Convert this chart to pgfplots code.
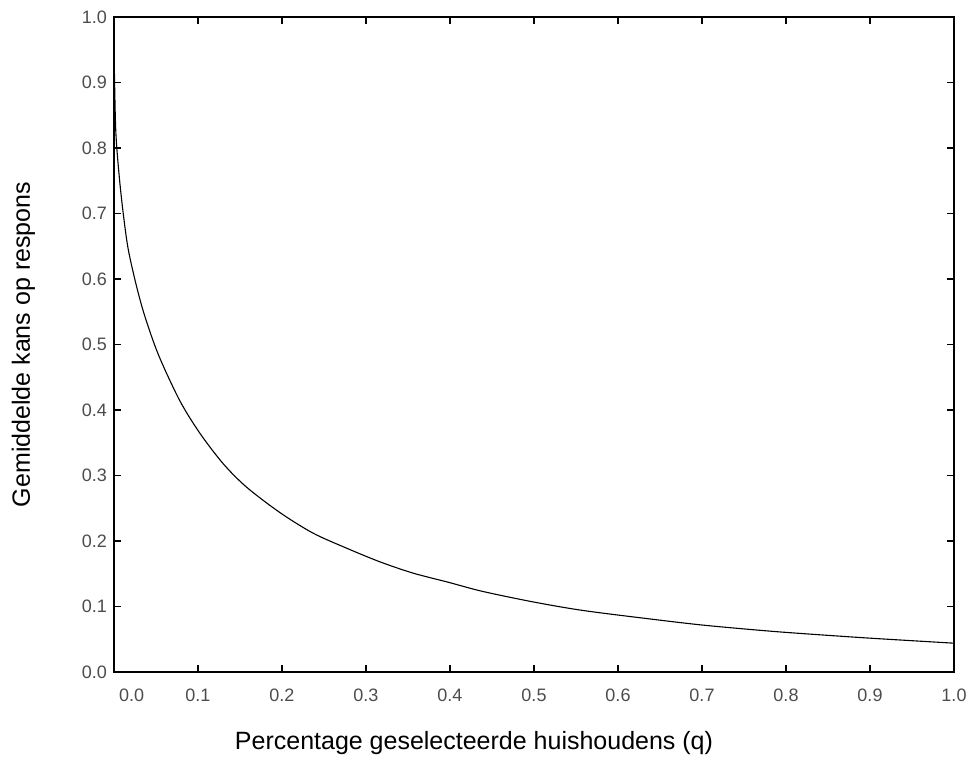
\documentclass[border=0pt]{standalone}
\usepackage{fontspec}
\setmainfont{Liberation Sans}
\usepackage{pgfplots}
\pgfplotsset{compat=1.18}

\begin{document}
\begin{tikzpicture}
\begin{axis}[
    name=ax,
    scale only axis,
    width=420pt, height=327.5pt,
    xmin=0, xmax=1, ymin=0, ymax=1,
    axis line style={line width=1pt},
    xtick={0.1,0.2,...,1.0},
    xticklabels={0.1,0.2,0.3,0.4,0.5,0.6,0.7,0.8,0.9,1.0},
    extra x ticks={0.021},
    extra x tick labels={0.0},
    extra x tick style={major tick length=0pt},
    ytick={0,0.1,...,1.0},
    yticklabel style={/pgf/number format/.cd, fixed, fixed zerofill, precision=1},
    /pgf/number format/assume math mode=true,
    major tick length=3.5pt,
    tick style={line width=0.6pt, black},
    ticklabel style={font=\fontsize{9}{10}\selectfont, text=black!70},
    xticklabel style={yshift=-5pt},
    xlabel={Percentage geselecteerde huishoudens (q)},
    ylabel={Gemiddelde kans op respons},
    label style={font=\fontsize{12.5}{15}\selectfont},
    xlabel style={at={(axis description cs:0.4286,-0.119)}, anchor=base},
    ylabel style={at={(axis description cs:-0.1,0.5)}, anchor=base},
]
\addplot[black, line width=0.55pt, smooth, tension=0.5] coordinates {
    (0.000,0.955) (0.002,0.830) (0.006,0.760) (0.011,0.700) (0.017,0.645)
    (0.027,0.588) (0.037,0.542) (0.053,0.484) (0.078,0.415) (0.102,0.365)
    (0.130,0.318) (0.158,0.282) (0.198,0.243) (0.237,0.212) (0.277,0.189)
    (0.317,0.168) (0.356,0.151) (0.398,0.137) (0.439,0.123) (0.499,0.107)
    (0.558,0.094) (0.638,0.081) (0.698,0.072) (0.757,0.065) (0.805,0.060)
    (0.896,0.052) (1.000,0.044)
};
\end{axis}
\pgfresetboundingbox
\path ([xshift=-57pt,yshift=-42.5pt]ax.south west) rectangle ([xshift=11pt,yshift=8.5pt]ax.north east);
\end{tikzpicture}
\end{document}
